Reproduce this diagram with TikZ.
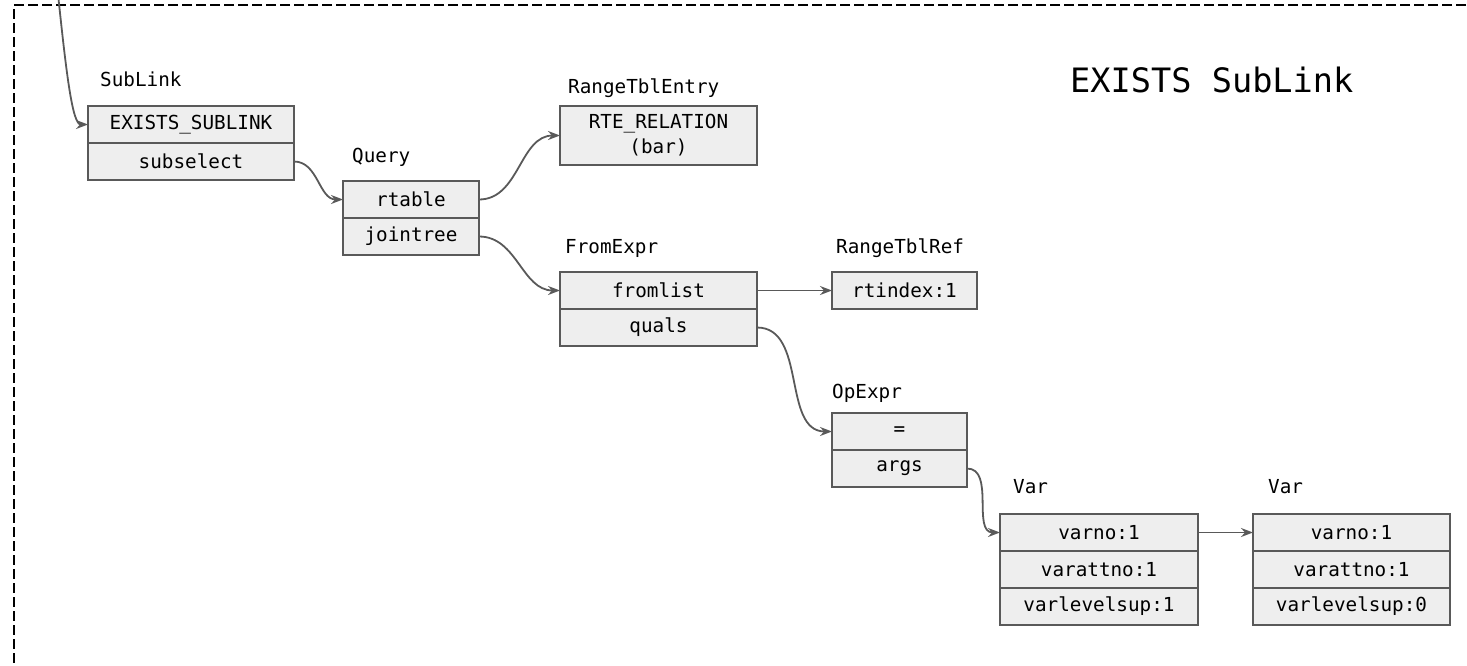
\documentclass[tikz,border=0pt]{standalone}
\usepackage{fontspec}
\setmonofont{DejaVu Sans Mono}
\usetikzlibrary{positioning,arrows.meta}
\definecolor{fieldfill}{HTML}{EEEEEE}
\definecolor{fieldline}{HTML}{595959}
\newcommand{\treearrowstyle}{-{Stealth[length=12pt,width=9pt,inset=4pt]}}

\begin{document}
\begin{tikzpicture}[
    x=1pt, y=1pt,
    font=\ttfamily\fontsize{19.3}{25}\selectfont,
    link/.style={\treearrowstyle, draw=fieldline, line width=1.8pt, line cap=round},
    field/.style={draw=fieldline, fill=fieldfill, line width=2pt, outer sep=0pt, inner sep=0pt, minimum height=37pt, align=center},
    tag/.style={anchor=base west, inner sep=0pt}
]
  \useasboundingbox (0,0) rectangle (1467,-665);
  \draw[line width=2pt, dash pattern=on 10pt off 4pt] (1480,-5) -- (14,-5) -- (14,-680);

  \node[tag, font=\ttfamily\fontsize{33.6}{40}\selectfont] (title) at (1070,-92) {EXISTS SubLink};

  % SubLink
  \node[tag] (sltag) at (100,-86) {SubLink};
  \node[field, minimum width=206pt, anchor=north west] (slkind) at (88,-106) {EXISTS\_SUBLINK};
  \node[field, minimum width=206pt, below=0pt of slkind] (slsub) {subselect};

  % Query
  \node[tag] (qtag) at (352,-162) {Query};
  \node[field, minimum width=136pt, anchor=north west] (qrt) at (343,-181) {rtable};
  \node[field, minimum width=136pt, below=0pt of qrt] (qjt) {jointree};

  % RangeTblEntry
  \node[tag] (rtetag) at (568,-93) {RangeTblEntry};
  \node[field, minimum width=197pt, minimum height=59pt, anchor=north west] (rte) at (560,-106) {RTE\_RELATION\\(bar)};

  % FromExpr
  \node[tag] (fetag) at (565,-253) {FromExpr};
  \node[field, minimum width=197pt, anchor=north west] (fefrom) at (560,-272) {fromlist};
  \node[field, minimum width=197pt, below=0pt of fefrom] (fequals) {quals};

  % RangeTblRef
  \node[tag] (rtrtag) at (836,-253) {RangeTblRef};
  \node[field, minimum width=145pt, anchor=north west] (rtr) at (832,-272) {rtindex:1};

  % OpExpr
  \node[tag] (optag) at (832,-398) {OpExpr};
  \node[field, minimum width=135pt, anchor=north west] (opop) at (832,-413) {=};
  \node[field, minimum width=135pt, below=0pt of opop] (opargs) {args};

  % Var (outer)
  \node[tag] (vatag) at (1013,-493) {Var};
  \node[field, minimum width=198pt, anchor=north west] (vano) at (1000,-514) {varno:1};
  \node[field, minimum width=198pt, below=0pt of vano] (vaatt) {varattno:1};
  \node[field, minimum width=198pt, below=0pt of vaatt] (valev) {varlevelsup:1};

  % Var (inner)
  \node[tag] (vbtag) at (1268,-493) {Var};
  \node[field, minimum width=197pt, anchor=north west] (vbno) at (1253,-514) {varno:1};
  \node[field, minimum width=197pt, below=0pt of vbno] (vbatt) {varattno:1};
  \node[field, minimum width=197pt, below=0pt of vbatt] (vblev) {varlevelsup:0};

  % links
  \coordinate (entry) at (58,6);
  \draw[link] (entry) to[out=-84, in=180, out looseness=1.5, in looseness=0.3] (slkind.west);
  \draw[link] (slsub.east) to[out=0, in=180] (qrt.west);
  \draw[link] (qrt.east) to[out=0, in=180] (rte.west);
  \draw[link] (qjt.east) to[out=0, in=180] (fefrom.west);
  \draw[link] (fefrom.east) -- (rtr.west);
  \draw[link] (fequals.east) to[out=0, in=180] (opop.west);
  \draw[link] (opargs.east) to[out=0, in=180] (vano.west);
  \draw[link] (vano.east) -- (vbno.west);
\end{tikzpicture}
\end{document}
